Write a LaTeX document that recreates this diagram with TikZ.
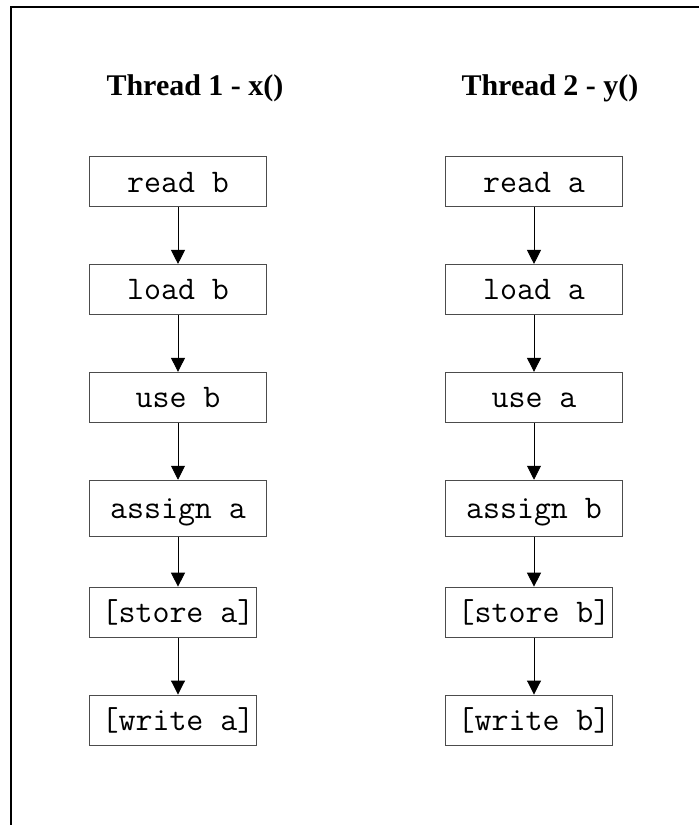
\documentclass[tikz,border=0pt]{standalone}
\usepackage{fontspec}
\setmainfont{Liberation Serif}
\usetikzlibrary{arrows.meta,positioning}

\tikzset{
  op/.style={draw=black!70, line width=0.9pt, minimum width=177pt, minimum height=50pt,
    inner sep=0pt, text height=21pt, text depth=0pt, font=\ttfamily\fontsize{33}{33}\selectfont},
  opshort/.style={op, minimum width=167pt, execute at begin node=\hspace*{10pt}},
  title/.style={anchor=base, font=\bfseries\fontsize{30}{30}\selectfont}
}

\begin{document}
\begin{tikzpicture}[x=1pt,y=1pt,>={Triangle[length=14pt,width=14pt]},line width=0.9pt]
        \useasboundingbox (0,0) rectangle (699,-825);
        \draw[line width=1.2pt] (11,-825) -- (11,-7) -- (699,-7);

        % thread 1
        \node[title] (titleX) at (195,-95) {Thread 1 - x()};
        \node[op]                         (readB)   at (178,-181.5) {read b};
        \node[op, below=57pt of readB]    (loadB)                   {load b};
        \node[op, below=57pt of loadB]    (useB)                    {use b};
        \node[op, minimum height=56pt, below=57pt of useB] (assignA) {assign a};
        \node[opshort, below=50pt of assignA.south west, anchor=north west] (storeA) {[store a]};
        \node[opshort, below=57pt of storeA] (writeA)               {[write a]};

        % thread 2
        \node[title] (titleY) at (550,-95) {Thread 2 - y()};
        \node[op]                         (readA)   at (534,-181.5) {read a};
        \node[op, below=57pt of readA]    (loadA)                   {load a};
        \node[op, below=57pt of loadA]    (useA)                    {use a};
        \node[op, minimum height=56pt, below=57pt of useA] (assignB) {assign b};
        \node[opshort, below=50pt of assignB.south west, anchor=north west] (storeB) {[store b]};
        \node[opshort, below=57pt of storeB] (writeB)               {[write b]};

        \foreach \a/\b in {readB/loadB, loadB/useB, useB/assignA, assignA/storeA, storeA/writeA}
          \draw[->] (readB |- \a.south) -- (readB |- \b.north);
        \foreach \a/\b in {readA/loadA, loadA/useA, useA/assignB, assignB/storeB, storeB/writeB}
          \draw[->] (readA |- \a.south) -- (readA |- \b.north);
\end{tikzpicture}
\end{document}
